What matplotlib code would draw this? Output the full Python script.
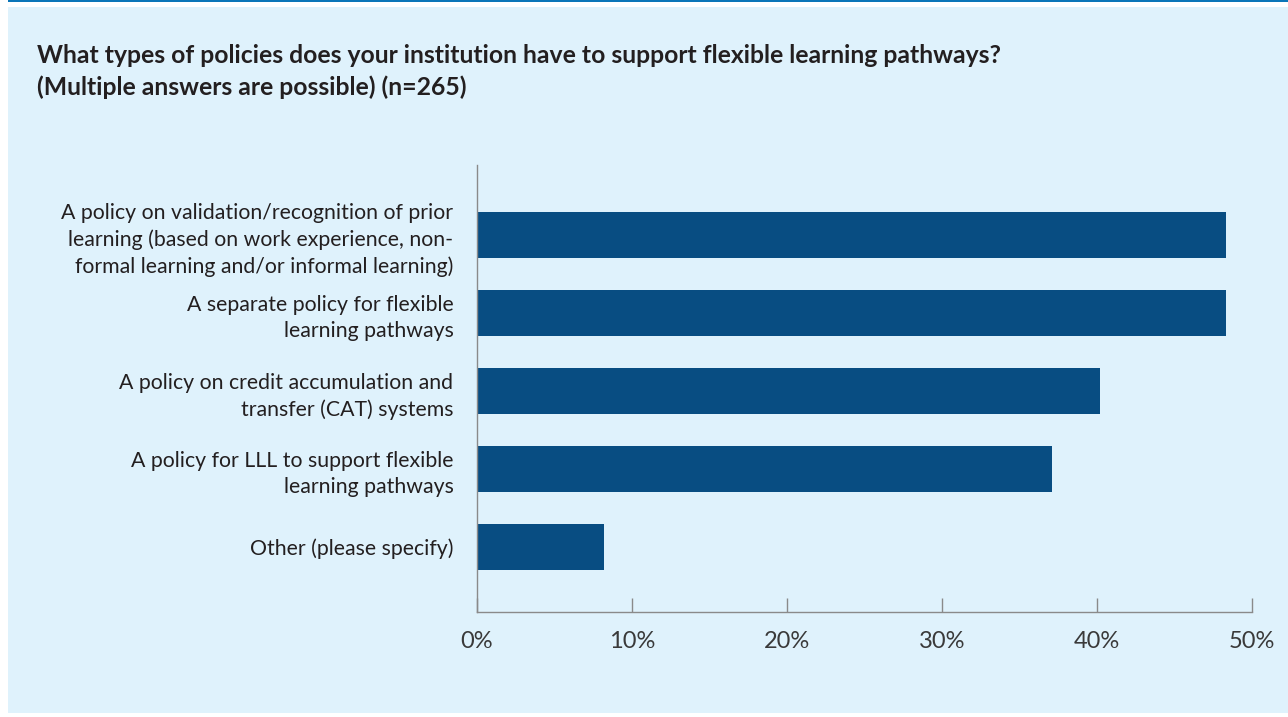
import matplotlib
matplotlib.use("Agg")
import matplotlib.pyplot as plt
from matplotlib.patches import Rectangle
from matplotlib.ticker import PercentFormatter

# survey answers, top to bottom
categories = [
    "A policy on validation/recognition of prior\nlearning (based on work experience, non-\nformal learning and/or informal learning)",
    "A separate policy for flexible\nlearning pathways",
    "A policy on credit accumulation and\ntransfer (CAT) systems",
    "A policy for LLL to support flexible\nlearning pathways",
    "Other (please specify)",
]
shares = [48.3, 48.3, 40.2, 37.1, 8.2]
xticks = [0, 10, 20, 30, 40, 50]

title_lines = ["What types of policies does your institution have to support flexible learning pathways?",
               "(Multiple answers are possible) (n=265)"]

W, H = 1288, 717
bg = "#dff2fc"
bar_color = "#084d82"
axis_grey = "#8a8a8a"
text_color = "#231f20"

plt.rcParams["font.family"] = ["Lato", "DejaVu Sans"]

fig = plt.figure(figsize=(W / 100, H / 100), dpi=100)
fig.patch.set_facecolor("white")

# light blue panel with a thin blue rule on top
fig.patches.append(Rectangle((8 / W, 4 / H), 1 - 8 / W, 706 / H, transform=fig.transFigure,
                             facecolor=bg, edgecolor="none", zorder=-5))
fig.patches.append(Rectangle((8 / W, 1 - 2 / H), 1 - 8 / W, 2 / H, transform=fig.transFigure,
                             facecolor="#0a75b8", edgecolor="none", zorder=-5))

for y_px, line in zip([63, 95], title_lines):
    fig.text(37 / W, 1 - y_px / H, line, ha="left", va="baseline", fontsize=17.8,
             fontweight="bold", color=text_color)

left, right, top, bottom = 477, 1252, 165, 612
ax = fig.add_axes([left / W, 1 - bottom / H, (right - left) / W, (bottom - top) / H])
ax.set_facecolor("none")

ypos = list(range(len(categories)))
ax.barh(ypos, shares, height=0.59, color=bar_color, zorder=2)
ax.set_ylim(4 + 65 / 78, -70 / 78)
ax.set_xlim(0, 50)

ax.set_yticks(ypos)
ax.set_yticklabels(categories, fontsize=15.3, color=text_color, linespacing=1.38)
ax.tick_params(axis="y", length=0, pad=17)

ax.set_xticks(xticks)
ax.xaxis.set_major_formatter(PercentFormatter(decimals=0))
ax.tick_params(axis="x", direction="in", length=10, width=1, color=axis_grey,
               labelsize=17, labelcolor="#3a3a3a", pad=14)

for side in ("top", "right"):
    ax.spines[side].set_visible(False)
for side in ("left", "bottom"):
    ax.spines[side].set_color(axis_grey)
    ax.spines[side].set_linewidth(1)

fig.savefig("out.png", dpi=100, facecolor=fig.get_facecolor())
